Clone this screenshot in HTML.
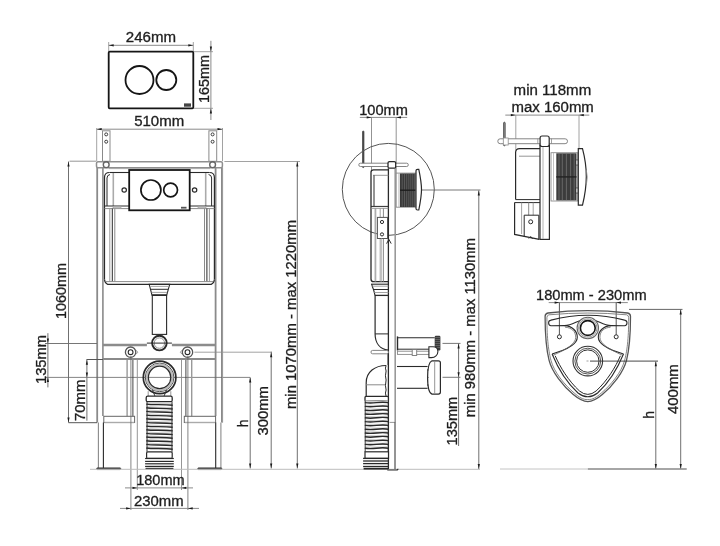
<!DOCTYPE html>
<html><head><meta charset="utf-8"><style>
html,body{margin:0;padding:0;background:#fff;width:720px;height:546px;overflow:hidden;}
svg{display:block;will-change:transform;}
text{font-family:"Liberation Sans",sans-serif;stroke:#1e1e1e;stroke-width:0.3px;}
</style></head><body>
<svg width="720" height="546" viewBox="0 0 720 546">
<rect width="720" height="546" fill="#fff"/>
<rect x="108.7" y="51.7" width="84.6" height="56.6" stroke="#151515" stroke-width="1.8" fill="none" rx="1"/>
<circle cx="139.5" cy="80" r="14" stroke="#151515" stroke-width="1.8" fill="none"/>
<circle cx="166.3" cy="80" r="10" stroke="#151515" stroke-width="1.8" fill="none"/>
<rect x="184" y="103.4" width="7" height="3.3" stroke="none" stroke-width="0" fill="#444" rx="0"/>
<line x1="108.7" y1="42" x2="108.7" y2="51" stroke="#8a8a8a" stroke-width="0.8" />
<line x1="193.3" y1="42" x2="193.3" y2="51" stroke="#8a8a8a" stroke-width="0.8" />
<line x1="108.7" y1="45.3" x2="193.3" y2="45.3" stroke="#8a8a8a" stroke-width="1.0" />
<polygon points="108.9,45.3 113.7,44.2 113.7,46.4" fill="#1a1a1a"/>
<polygon points="193.1,45.3 188.3,44.2 188.3,46.4" fill="#1a1a1a"/>
<line x1="194" y1="51.7" x2="213" y2="51.7" stroke="#8a8a8a" stroke-width="0.8" />
<line x1="194" y1="108.3" x2="213" y2="108.3" stroke="#8a8a8a" stroke-width="0.8" />
<line x1="210.9" y1="40.8" x2="210.9" y2="120" stroke="#8a8a8a" stroke-width="1.0" />
<polygon points="210.9,51.4 209.8,46.6 212,46.6" fill="#1a1a1a"/>
<polygon points="210.9,108.6 209.8,113.4 212,113.4" fill="#1a1a1a"/>
<line x1="96.7" y1="128" x2="96.7" y2="161" stroke="#8a8a8a" stroke-width="0.8" />
<line x1="222.5" y1="128" x2="222.5" y2="161" stroke="#8a8a8a" stroke-width="0.8" />
<line x1="96.7" y1="129.2" x2="222.5" y2="129.2" stroke="#8a8a8a" stroke-width="1.0" />
<polygon points="96.9,129.2 101.7,128.1 101.7,130.3" fill="#1a1a1a"/>
<polygon points="222.3,129.2 217.5,128.1 217.5,130.3" fill="#1a1a1a"/>
<rect x="102.5" y="130.8" width="7.5" height="30.5" stroke="#8a8a8a" stroke-width="1.0" fill="none" rx="0"/>
<rect x="208.9" y="130.8" width="7.8" height="30.5" stroke="#8a8a8a" stroke-width="1.0" fill="none" rx="0"/>
<circle cx="106.2" cy="134.4" r="1.5" stroke="#2a2a2a" stroke-width="0.9" fill="none"/>
<circle cx="106.2" cy="141.7" r="1.5" stroke="#2a2a2a" stroke-width="0.9" fill="none"/>
<circle cx="212.6" cy="134.4" r="1.5" stroke="#2a2a2a" stroke-width="0.9" fill="none"/>
<circle cx="212.6" cy="141.7" r="1.5" stroke="#2a2a2a" stroke-width="0.9" fill="none"/>
<line x1="69.5" y1="161.2" x2="96" y2="161.2" stroke="#8a8a8a" stroke-width="0.9" />
<line x1="224.4" y1="161.5" x2="300" y2="161.5" stroke="#8a8a8a" stroke-width="0.8" />
<line x1="97.2" y1="167.5" x2="97.2" y2="422.6" stroke="#8a8a8a" stroke-width="1.8" />
<line x1="102.9" y1="167.5" x2="102.9" y2="416" stroke="#8a8a8a" stroke-width="1.6" />
<line x1="215.6" y1="167.5" x2="215.6" y2="416" stroke="#8a8a8a" stroke-width="1.8" />
<line x1="221.9" y1="167.5" x2="221.9" y2="422.6" stroke="#8a8a8a" stroke-width="1.8" />
<rect x="96.5" y="161.7" width="125.9" height="6" stroke="#8f8f8f" stroke-width="1.5" fill="#fff" rx="1.5"/>
<circle cx="106.2" cy="164.7" r="2.9" stroke="#666" stroke-width="1.4" fill="none"/>
<circle cx="212.6" cy="164.7" r="2.9" stroke="#666" stroke-width="1.4" fill="none"/>
<path d="M104.5,279.5 V177.5 Q104.5,172.5 109.5,172.5" stroke="#2a2a2a" stroke-width="1.2" fill="none"/>
<path d="M214.4,279.5 V177.5 Q214.4,172.5 209.4,172.5" stroke="#2a2a2a" stroke-width="1.2" fill="none"/>
<line x1="109.5" y1="172.5" x2="129.2" y2="172.5" stroke="#2a2a2a" stroke-width="1.1" />
<line x1="189.7" y1="172.5" x2="209.4" y2="172.5" stroke="#2a2a2a" stroke-width="1.1" />
<line x1="109" y1="168.6" x2="210" y2="168.6" stroke="#aaa" stroke-width="1.0" />
<path d="M107,206 V178 Q107,175 110,174.5" stroke="#2a2a2a" stroke-width="1.0" fill="none"/>
<path d="M211.6,206 V178 Q211.6,175 208.6,174.5" stroke="#2a2a2a" stroke-width="1.0" fill="none"/>
<line x1="113.3" y1="173" x2="113.3" y2="206" stroke="#aaa" stroke-width="1.6" />
<line x1="205.7" y1="173" x2="205.7" y2="206" stroke="#aaa" stroke-width="1.6" />
<line x1="104.5" y1="206" x2="129.2" y2="206" stroke="#2a2a2a" stroke-width="1.0" />
<line x1="104.5" y1="208.6" x2="129.2" y2="208.6" stroke="#8a8a8a" stroke-width="1.0" />
<line x1="189.7" y1="206" x2="214.4" y2="206" stroke="#2a2a2a" stroke-width="1.0" />
<line x1="189.7" y1="208.6" x2="214.4" y2="208.6" stroke="#8a8a8a" stroke-width="1.0" />
<rect x="113" y="206.3" width="8" height="2" stroke="#999" stroke-width="0.6" fill="#bbb" rx="0"/>
<rect x="198" y="206.3" width="8" height="2" stroke="#999" stroke-width="0.6" fill="#bbb" rx="0"/>
<line x1="109.8" y1="208.6" x2="109.8" y2="281.5" stroke="#999" stroke-width="1.0" />
<line x1="112.3" y1="208.6" x2="112.3" y2="281.5" stroke="#2a2a2a" stroke-width="1.0" />
<line x1="114.8" y1="208.6" x2="114.8" y2="281.5" stroke="#8a8a8a" stroke-width="1.0" />
<line x1="204.5" y1="208.6" x2="204.5" y2="281.5" stroke="#8a8a8a" stroke-width="1.0" />
<line x1="206.9" y1="208.6" x2="206.9" y2="281.5" stroke="#2a2a2a" stroke-width="1.0" />
<line x1="209.4" y1="208.6" x2="209.4" y2="281.5" stroke="#999" stroke-width="1.0" />
<path d="M104.5,279.5 Q104.5,282.5 107.5,284.3 H211.4 Q214.4,282.5 214.4,279.5" stroke="#2a2a2a" stroke-width="1.2" fill="none"/>
<line x1="106" y1="281.6" x2="213" y2="281.6" stroke="#8a8a8a" stroke-width="1.0" />
<rect x="129.2" y="170" width="60.5" height="40.3" stroke="#151515" stroke-width="1.8" fill="#fff" rx="0"/>
<circle cx="150.9" cy="190" r="10" stroke="#151515" stroke-width="1.7" fill="none"/>
<circle cx="170.6" cy="190" r="6.9" stroke="#151515" stroke-width="1.7" fill="none"/>
<circle cx="124.2" cy="190" r="2.2" stroke="#2a2a2a" stroke-width="1.2" fill="none"/>
<circle cx="194.6" cy="190" r="2.2" stroke="#2a2a2a" stroke-width="1.2" fill="none"/>
<rect x="181" y="206.8" width="5.5" height="1.8" stroke="none" stroke-width="0" fill="#555" rx="0"/>
<path d="M149.2,284.3 H169.7 L166.7,295.2 H152 Z" stroke="#2a2a2a" stroke-width="1.1" fill="none"/>
<line x1="150.5" y1="286.4" x2="168.5" y2="286.4" stroke="#999" stroke-width="0.9" />
<line x1="151" y1="289.3" x2="168" y2="289.3" stroke="#2a2a2a" stroke-width="1.0" />
<line x1="151.6" y1="292.4" x2="167.2" y2="292.4" stroke="#999" stroke-width="0.9" />
<rect x="152.3" y="295.2" width="14.3" height="39.2" stroke="#2a2a2a" stroke-width="1.1" fill="none" rx="0"/>
<line x1="152.3" y1="295.2" x2="166.6" y2="295.2" stroke="#2a2a2a" stroke-width="1.6" />
<circle cx="159.4" cy="343.1" r="7.3" stroke="#2a2a2a" stroke-width="1.9" fill="none"/>
<circle cx="159.4" cy="343.1" r="5.2" stroke="#8a8a8a" stroke-width="0.9" fill="none"/>
<line x1="146.9" y1="343.1" x2="171.9" y2="343.1" stroke="#2a2a2a" stroke-width="1.0" />
<line x1="45" y1="343.5" x2="97" y2="343.5" stroke="#666" stroke-width="0.9" />
<line x1="103" y1="345" x2="146.9" y2="345" stroke="#8c8c8c" stroke-width="2.4" />
<line x1="171.9" y1="345" x2="215.6" y2="345" stroke="#8c8c8c" stroke-width="2.4" />
<line x1="86.5" y1="359.5" x2="103" y2="359.5" stroke="#555" stroke-width="1.0" />
<line x1="103" y1="359" x2="215.6" y2="359" stroke="#8a8a8a" stroke-width="2.0" />
<line x1="194.4" y1="352.2" x2="272" y2="352.2" stroke="#8a8a8a" stroke-width="0.8" />
<circle cx="130.6" cy="352.2" r="5.2" stroke="#555" stroke-width="1.3" fill="none"/>
<circle cx="130.6" cy="352.2" r="2.4" stroke="#2a2a2a" stroke-width="1.1" fill="none"/>
<path d="M136.1,350.2 L137.79999999999998,352.2 L136.1,354.2" stroke="#8a8a8a" stroke-width="0.8" fill="none"/>
<circle cx="187.5" cy="352.2" r="5.2" stroke="#555" stroke-width="1.3" fill="none"/>
<circle cx="187.5" cy="352.2" r="2.4" stroke="#2a2a2a" stroke-width="1.1" fill="none"/>
<path d="M182.0,350.2 L180.3,352.2 L182.0,354.2" stroke="#8a8a8a" stroke-width="0.8" fill="none"/>
<line x1="45" y1="377.4" x2="250" y2="377.4" stroke="#666" stroke-width="0.8" />
<line x1="127.1" y1="360" x2="127.1" y2="416.3" stroke="#999" stroke-width="1.4" />
<line x1="132.9" y1="360" x2="132.9" y2="416.3" stroke="#444" stroke-width="1.0" />
<line x1="191.7" y1="360" x2="191.7" y2="416.3" stroke="#999" stroke-width="1.4" />
<line x1="185.9" y1="360" x2="185.9" y2="416.3" stroke="#444" stroke-width="1.0" />
<rect x="103.8" y="416.3" width="30.8" height="6.2" stroke="#666" stroke-width="1.0" fill="none" rx="0"/>
<rect x="184.3" y="416.3" width="31.3" height="6.2" stroke="#666" stroke-width="1.0" fill="none" rx="0"/>
<line x1="104.3" y1="422.5" x2="134.3" y2="422.5" stroke="#aaa" stroke-width="1.4" />
<line x1="184.8" y1="422.5" x2="215.3" y2="422.5" stroke="#aaa" stroke-width="1.4" />
<line x1="68.5" y1="422.7" x2="97" y2="422.7" stroke="#444" stroke-width="0.9" />
<line x1="98.4" y1="422.5" x2="98.4" y2="468" stroke="#8a8a8a" stroke-width="1.1" />
<line x1="103.4" y1="422.5" x2="103.4" y2="468" stroke="#2a2a2a" stroke-width="1.1" />
<line x1="215.7" y1="422.5" x2="215.7" y2="468" stroke="#2a2a2a" stroke-width="1.1" />
<line x1="220.9" y1="422.5" x2="220.9" y2="468" stroke="#8a8a8a" stroke-width="1.1" />
<rect x="96.6" y="467.8" width="24.2" height="1.8" stroke="#2a2a2a" stroke-width="0.5" fill="#444" rx="0.8"/>
<rect x="197.7" y="467.8" width="24.2" height="1.8" stroke="#2a2a2a" stroke-width="0.5" fill="#444" rx="0.8"/>
<circle cx="159.6" cy="377.4" r="16.3" stroke="#2a2a2a" stroke-width="1.7" fill="none"/>
<circle cx="159.6" cy="377.4" r="14.3" stroke="#2a2a2a" stroke-width="0.9" fill="none"/>
<circle cx="159.6" cy="377.4" r="12.8" stroke="#bbb" stroke-width="2.0" fill="none"/>
<circle cx="159.6" cy="377.4" r="11.2" stroke="#2a2a2a" stroke-width="1.2" fill="none"/>
<line x1="148.2" y1="391.2" x2="148.2" y2="396.2" stroke="#8a8a8a" stroke-width="0.9" />
<line x1="170.8" y1="391.2" x2="170.8" y2="396.2" stroke="#8a8a8a" stroke-width="0.9" />
<path d="M152.5,390 L155,396.2 M166.5,390 L164,396.2" stroke="#2a2a2a" stroke-width="0.9" fill="none"/>
<rect x="146.2" y="396.2" width="26" height="5.5" stroke="#2a2a2a" stroke-width="1.3" fill="#fff" rx="1.5"/>
<path d="M147,402.3 Q159.5,403.1 172,403.3 L172,405.1 Q159.5,404.9 147,404.3 Z" fill="#cfcfcf" stroke="none"/>
<path d="M146.3,404.1 C152,405.2 164,404.1 172.7,405.3" stroke="#2a2a2a" stroke-width="1.4" fill="none"/>
<path d="M147,406.0 Q159.5,406.8 172,407.0 L172,408.8 Q159.5,408.6 147,408.0 Z" fill="#cfcfcf" stroke="none"/>
<path d="M146.3,407.8 C152,408.9 164,407.8 172.7,409.0" stroke="#2a2a2a" stroke-width="1.4" fill="none"/>
<path d="M147,409.6 Q159.5,410.4 172,410.6 L172,412.4 Q159.5,412.2 147,411.6 Z" fill="#cfcfcf" stroke="none"/>
<path d="M146.3,411.4 C152,412.5 164,411.4 172.7,412.6" stroke="#2a2a2a" stroke-width="1.4" fill="none"/>
<path d="M147,413.3 Q159.5,414.1 172,414.3 L172,416.1 Q159.5,415.9 147,415.3 Z" fill="#cfcfcf" stroke="none"/>
<path d="M146.3,415.1 C152,416.2 164,415.1 172.7,416.3" stroke="#2a2a2a" stroke-width="1.4" fill="none"/>
<path d="M147,416.9 Q159.5,417.7 172,417.9 L172,419.7 Q159.5,419.5 147,418.9 Z" fill="#cfcfcf" stroke="none"/>
<path d="M146.3,418.7 C152,419.8 164,418.7 172.7,419.9" stroke="#2a2a2a" stroke-width="1.4" fill="none"/>
<path d="M147,420.6 Q159.5,421.4 172,421.6 L172,423.4 Q159.5,423.2 147,422.6 Z" fill="#cfcfcf" stroke="none"/>
<path d="M146.3,422.4 C152,423.5 164,422.4 172.7,423.6" stroke="#2a2a2a" stroke-width="1.4" fill="none"/>
<path d="M147,424.3 Q159.5,425.1 172,425.3 L172,427.1 Q159.5,426.9 147,426.3 Z" fill="#cfcfcf" stroke="none"/>
<path d="M146.3,426.1 C152,427.2 164,426.1 172.7,427.3" stroke="#2a2a2a" stroke-width="1.4" fill="none"/>
<path d="M147,427.9 Q159.5,428.7 172,428.9 L172,430.7 Q159.5,430.5 147,429.9 Z" fill="#cfcfcf" stroke="none"/>
<path d="M146.3,429.7 C152,430.8 164,429.7 172.7,430.9" stroke="#2a2a2a" stroke-width="1.4" fill="none"/>
<path d="M147,431.6 Q159.5,432.4 172,432.6 L172,434.4 Q159.5,434.2 147,433.6 Z" fill="#cfcfcf" stroke="none"/>
<path d="M146.3,433.4 C152,434.5 164,433.4 172.7,434.6" stroke="#2a2a2a" stroke-width="1.4" fill="none"/>
<path d="M147,435.2 Q159.5,436.0 172,436.2 L172,438.0 Q159.5,437.8 147,437.2 Z" fill="#cfcfcf" stroke="none"/>
<path d="M146.3,437.0 C152,438.1 164,437.0 172.7,438.2" stroke="#2a2a2a" stroke-width="1.4" fill="none"/>
<path d="M147,438.9 Q159.5,439.7 172,439.9 L172,441.7 Q159.5,441.5 147,440.9 Z" fill="#cfcfcf" stroke="none"/>
<path d="M146.3,440.7 C152,441.8 164,440.7 172.7,441.9" stroke="#2a2a2a" stroke-width="1.4" fill="none"/>
<path d="M147,442.6 Q159.5,443.4 172,443.6 L172,445.4 Q159.5,445.2 147,444.6 Z" fill="#cfcfcf" stroke="none"/>
<path d="M146.3,444.4 C152,445.5 164,444.4 172.7,445.6" stroke="#2a2a2a" stroke-width="1.4" fill="none"/>
<path d="M147,446.2 Q159.5,447.0 172,447.2 L172,449.0 Q159.5,448.8 147,448.2 Z" fill="#cfcfcf" stroke="none"/>
<path d="M146.3,448.0 C152,449.1 164,448.0 172.7,449.2" stroke="#2a2a2a" stroke-width="1.4" fill="none"/>
<line x1="147" y1="401.7" x2="147" y2="451.8" stroke="#2a2a2a" stroke-width="1.0" />
<line x1="172" y1="401.7" x2="172" y2="451.8" stroke="#2a2a2a" stroke-width="1.0" />
<rect x="146.6" y="451.8" width="25.6" height="6.6" stroke="#2a2a2a" stroke-width="1.2" fill="#fff" rx="1.2"/>
<line x1="145.1" y1="461.4" x2="173.8" y2="461.4" stroke="#2a2a2a" stroke-width="1.2" />
<line x1="145.1" y1="463.8" x2="173.8" y2="463.8" stroke="#2a2a2a" stroke-width="1.2" />
<line x1="145.1" y1="466.4" x2="173.8" y2="466.4" stroke="#2a2a2a" stroke-width="1.2" />
<line x1="145.1" y1="458.5" x2="173.8" y2="458.5" stroke="#2a2a2a" stroke-width="1.2" />
<path d="M145.5,468.6 H173.4" stroke="#2a2a2a" stroke-width="1.6" fill="none"/>
<line x1="130.9" y1="356" x2="130.9" y2="510" stroke="#666" stroke-width="0.8" />
<line x1="187.9" y1="356" x2="187.9" y2="510" stroke="#666" stroke-width="0.8" />
<line x1="137.3" y1="358" x2="137.3" y2="490" stroke="#8a8a8a" stroke-width="0.9" />
<line x1="181.5" y1="358" x2="181.5" y2="490" stroke="#8a8a8a" stroke-width="0.9" />
<line x1="125" y1="487.9" x2="193" y2="487.9" stroke="#8a8a8a" stroke-width="1.0" />
<polygon points="137.3,487.9 132.5,486.8 132.5,489" fill="#1a1a1a"/>
<polygon points="181.5,487.9 186.3,486.8 186.3,489" fill="#1a1a1a"/>
<line x1="120" y1="508.4" x2="199" y2="508.4" stroke="#8a8a8a" stroke-width="1.0" />
<polygon points="130.9,508.4 126.1,507.3 126.1,509.5" fill="#1a1a1a"/>
<polygon points="187.9,508.4 192.7,507.3 192.7,509.5" fill="#1a1a1a"/>
<line x1="68.5" y1="161.5" x2="68.5" y2="422.6" stroke="#707070" stroke-width="1.0" />
<polygon points="68.5,161.7 67.4,166.5 69.6,166.5" fill="#1a1a1a"/>
<polygon points="68.5,422.4 67.4,417.6 69.6,417.6" fill="#1a1a1a"/>
<line x1="47.9" y1="333.2" x2="47.9" y2="387.4" stroke="#707070" stroke-width="1.0" />
<polygon points="47.9,343.2 46.8,338.4 49,338.4" fill="#1a1a1a"/>
<polygon points="47.9,377.2 46.8,382 49,382" fill="#1a1a1a"/>
<line x1="86.9" y1="359.6" x2="86.9" y2="420.7" stroke="#707070" stroke-width="1.0" />
<polygon points="86.9,359.9 85.8,364.7 88,364.7" fill="#1a1a1a"/>
<polygon points="86.9,377.2 85.8,372.4 88,372.4" fill="#1a1a1a"/>
<line x1="297.3" y1="161.5" x2="297.3" y2="468.5" stroke="#707070" stroke-width="1.0" />
<polygon points="297.3,161.7 296.2,166.5 298.4,166.5" fill="#1a1a1a"/>
<polygon points="297.3,468.3 296.2,463.5 298.4,463.5" fill="#1a1a1a"/>
<line x1="271.2" y1="351.7" x2="271.2" y2="468.5" stroke="#707070" stroke-width="1.0" />
<polygon points="271.2,352.4 270.1,357.2 272.3,357.2" fill="#1a1a1a"/>
<polygon points="271.2,468.3 270.1,463.5 272.3,463.5" fill="#1a1a1a"/>
<line x1="250.2" y1="377.4" x2="250.2" y2="468.5" stroke="#707070" stroke-width="1.0" />
<polygon points="250.2,377.6 249.1,382.4 251.3,382.4" fill="#1a1a1a"/>
<polygon points="250.2,468.3 249.1,463.5 251.3,463.5" fill="#1a1a1a"/>
<line x1="90" y1="469.3" x2="480" y2="469.3" stroke="#bdbdbd" stroke-width="1.0" />
<line x1="222.6" y1="167.5" x2="222.6" y2="422.6" stroke="#9a9a9a" stroke-width="0.9" />
<line x1="359.8" y1="117.4" x2="407.2" y2="117.4" stroke="#8a8a8a" stroke-width="1.0" />
<polygon points="371.5,117.4 366.7,116.3 366.7,118.5" fill="#1a1a1a"/>
<polygon points="396.2,117.4 401,116.3 401,118.5" fill="#1a1a1a"/>
<line x1="371.5" y1="117.4" x2="371.5" y2="170" stroke="#777" stroke-width="0.8" />
<line x1="396.2" y1="117.4" x2="396.2" y2="173" stroke="#777" stroke-width="0.8" />
<rect x="362.5" y="131" width="1.5" height="36.6" stroke="#2a2a2a" stroke-width="0.6" fill="#555" rx="0.7"/>
<circle cx="388.3" cy="189.4" r="46" stroke="#555" stroke-width="1.0" fill="none"/>
<line x1="421.5" y1="190" x2="480.5" y2="190" stroke="#555" stroke-width="0.8" />
<rect x="358.8" y="163.2" width="49.5" height="3.3" stroke="#777" stroke-width="0.9" fill="#fff" rx="1.6"/>
<line x1="388.4" y1="168.2" x2="388.4" y2="469" stroke="#2a2a2a" stroke-width="1.3" />
<line x1="395.2" y1="168.2" x2="395.2" y2="422.4" stroke="#999" stroke-width="1.6" />
<line x1="389.5" y1="422.4" x2="395.4" y2="422.4" stroke="#8a8a8a" stroke-width="0.9" />
<line x1="395" y1="422.4" x2="395" y2="469" stroke="#2a2a2a" stroke-width="1.0" />
<path d="M387.3,470 H396.5 Q398,470 397.9,468.8" stroke="#2a2a2a" stroke-width="1.2" fill="none"/>
<rect x="388" y="161.6" width="7.7" height="6.6" stroke="#2a2a2a" stroke-width="1.3" fill="#fff" rx="1.5"/>
<path d="M388.4,169.8 H373.5 Q371,169.8 371,172.3 V279 Q371,281.7 373.5,281.7 H388.4" stroke="#2a2a2a" stroke-width="1.3" fill="none"/>
<line x1="373" y1="175.3" x2="388.4" y2="175.3" stroke="#8a8a8a" stroke-width="0.9" />
<line x1="374" y1="175.3" x2="374" y2="206.4" stroke="#2a2a2a" stroke-width="1.0" />
<line x1="371" y1="206.4" x2="388.4" y2="206.4" stroke="#2a2a2a" stroke-width="1.0" />
<line x1="371" y1="208.3" x2="388.4" y2="208.3" stroke="#8a8a8a" stroke-width="0.9" />
<line x1="375.1" y1="208.3" x2="375.1" y2="281.7" stroke="#999" stroke-width="0.9" />
<line x1="380.2" y1="208.3" x2="380.2" y2="217.4" stroke="#999" stroke-width="0.9" />
<line x1="380.2" y1="238.5" x2="380.2" y2="281.7" stroke="#999" stroke-width="0.9" />
<line x1="383.4" y1="208.3" x2="383.4" y2="217.4" stroke="#8a8a8a" stroke-width="1.0" />
<line x1="383.4" y1="238.5" x2="383.4" y2="281.7" stroke="#8a8a8a" stroke-width="1.0" />
<rect x="377.4" y="217.4" width="10.1" height="21.1" stroke="#555" stroke-width="1.0" fill="#fff" rx="0"/>
<circle cx="382" cy="222" r="1.6" stroke="#2a2a2a" stroke-width="1.0" fill="none"/>
<circle cx="382" cy="234.4" r="1.6" stroke="#2a2a2a" stroke-width="1.0" fill="none"/>
<path d="M386.6,243.6 L388.9,239.4 L391.2,243.6" stroke="#2a2a2a" stroke-width="1.0" fill="none"/>
<rect x="396.2" y="173.1" width="19.8" height="34.1" stroke="#8a8a8a" stroke-width="0.9" fill="#fff" rx="0"/>
<line x1="399" y1="173.5" x2="399" y2="207" stroke="#aaa" stroke-width="0.9" />
<rect x="400" y="173.5" width="15.4" height="33.5" stroke="none" stroke-width="0" fill="#383838" rx="0"/>
<line x1="402.2" y1="173.7" x2="402.2" y2="206.8" stroke="#6e6e6e" stroke-width="0.6" />
<line x1="404.5" y1="173.7" x2="404.5" y2="206.8" stroke="#6e6e6e" stroke-width="0.6" />
<line x1="406.7" y1="173.7" x2="406.7" y2="206.8" stroke="#6e6e6e" stroke-width="0.6" />
<line x1="408.8" y1="173.7" x2="408.8" y2="206.8" stroke="#6e6e6e" stroke-width="0.6" />
<line x1="410.8" y1="173.7" x2="410.8" y2="206.8" stroke="#6e6e6e" stroke-width="0.6" />
<line x1="412.7" y1="173.7" x2="412.7" y2="206.8" stroke="#6e6e6e" stroke-width="0.6" />
<line x1="414.4" y1="173.7" x2="414.4" y2="206.8" stroke="#6e6e6e" stroke-width="0.6" />
<line x1="400" y1="190.2" x2="415.4" y2="190.2" stroke="#1e1e1e" stroke-width="1.4" />
<path d="M416,170.8 Q416,169.3 417.5,169.3 H418.8 C420.6,178 421.5,184 421.5,189.6 C421.5,195 420.6,201 418.8,210 H417.5 Q416,210 416,208.5 Z" stroke="#2a2a2a" stroke-width="1.2" fill="#fff"/>
<line x1="371" y1="284.2" x2="388.4" y2="284.2" stroke="#2a2a2a" stroke-width="1.1" />
<path d="M371.7,284.2 L372.5,287 L373.5,289.5 L374.3,292.5 L375,295.4" stroke="#2a2a2a" stroke-width="1.1" fill="none"/>
<line x1="372.5" y1="286.2" x2="388.4" y2="286.2" stroke="#999" stroke-width="0.9" />
<line x1="373.3" y1="289.5" x2="388.4" y2="289.5" stroke="#2a2a2a" stroke-width="1.0" />
<line x1="374.3" y1="292.5" x2="388.4" y2="292.5" stroke="#999" stroke-width="0.9" />
<line x1="374.7" y1="295.4" x2="388.4" y2="295.4" stroke="#2a2a2a" stroke-width="1.3" />
<line x1="375.8" y1="208.3" x2="375.8" y2="281.7" stroke="#999" stroke-width="0.8" />
<line x1="381.6" y1="238.5" x2="381.6" y2="281.7" stroke="#aaa" stroke-width="0.8" />
<path d="M375.1,295.4 V333.9 C375.1,343 380,349 388.4,350.2" stroke="#2a2a2a" stroke-width="1.2" fill="none"/>
<line x1="375.1" y1="333.9" x2="388.4" y2="333.9" stroke="#2a2a2a" stroke-width="1.0" />
<line x1="397.5" y1="336.4" x2="397.5" y2="350.5" stroke="#2a2a2a" stroke-width="1.4" />
<line x1="397.5" y1="337.7" x2="434.7" y2="337.7" stroke="#2a2a2a" stroke-width="1.1" />
<line x1="397.5" y1="349.2" x2="429.5" y2="349.2" stroke="#2a2a2a" stroke-width="1.0" />
<rect x="434.7" y="335.8" width="5.7" height="14.7" stroke="none" stroke-width="0" fill="#3a3a3a" rx="1.2"/>
<line x1="435.2" y1="337.5" x2="440" y2="337.5" stroke="#888" stroke-width="0.5" />
<line x1="435.2" y1="339.5" x2="440" y2="339.5" stroke="#888" stroke-width="0.5" />
<line x1="435.2" y1="341.5" x2="440" y2="341.5" stroke="#888" stroke-width="0.5" />
<line x1="435.2" y1="343.5" x2="440" y2="343.5" stroke="#888" stroke-width="0.5" />
<line x1="435.2" y1="345.5" x2="440" y2="345.5" stroke="#888" stroke-width="0.5" />
<line x1="435.2" y1="347.5" x2="440" y2="347.5" stroke="#888" stroke-width="0.5" />
<rect x="397.5" y="351.2" width="32" height="3.2" stroke="#888" stroke-width="0.9" fill="#fff" rx="0"/>
<rect x="412.2" y="349.5" width="4.5" height="6" stroke="#777" stroke-width="0.9" fill="#fff" rx="0"/>
<path d="M428.9,346.7 H433 C436.5,346.7 437.9,349 437.9,351.5 C437.9,355 435,357.6 431.5,357.6 H428.9 Z" stroke="#2a2a2a" stroke-width="1.1" fill="#fff"/>
<rect x="371" y="350.4" width="17.4" height="3.4" stroke="#777" stroke-width="0.9" fill="#fff" rx="1.6"/>
<line x1="388.2" y1="354" x2="388.2" y2="365" stroke="#2a2a2a" stroke-width="1.2" />
<path d="M366.2,396.4 V382.7 C366.2,372 375,365.5 386.1,365.5" stroke="#2a2a2a" stroke-width="1.2" fill="none"/>
<line x1="366.2" y1="384.8" x2="386" y2="384.8" stroke="#8a8a8a" stroke-width="1.0" />
<path d="M386.1,365.5 Q384.8,368 386.1,371 Q384.8,376 386.1,380 Q384.8,386 386.1,390 Q384.8,393 386.1,396.4" stroke="#2a2a2a" stroke-width="1.0" fill="none"/>
<line x1="397" y1="366.5" x2="427.6" y2="366.5" stroke="#2a2a2a" stroke-width="1.1" />
<line x1="397" y1="388.3" x2="427.6" y2="388.3" stroke="#2a2a2a" stroke-width="1.1" />
<path d="M432,360.8 H438.4 Q440.4,360.8 440.4,362.8 V392.1 Q440.4,394.1 438.4,394.1 H432 C429,393 427.6,385 427.6,377.4 C427.6,370 429,362 432,360.8 Z" stroke="#2a2a2a" stroke-width="1.2" fill="#fff"/>
<line x1="434.7" y1="361.3" x2="434.7" y2="393.6" stroke="#8a8a8a" stroke-width="0.9" />
<circle cx="427.8" cy="370" r="0.7" stroke="#2a2a2a" stroke-width="0" fill="#333"/>
<circle cx="427.8" cy="377.4" r="0.7" stroke="#2a2a2a" stroke-width="0" fill="#333"/>
<circle cx="427.8" cy="385" r="0.7" stroke="#2a2a2a" stroke-width="0" fill="#333"/>
<rect x="365" y="396.4" width="23.4" height="4.8" stroke="#2a2a2a" stroke-width="1.3" fill="#fff" rx="1"/>
<path d="M365.5,400.6 Q377,401.4 388,400.4 L388,402.6 Q377,403.4 365.5,402.6 Z" fill="#d2d2d2" stroke="none"/>
<path d="M364.8,402.6 Q370,403.4 376.5,402.6 T388.6,402.6" stroke="#2a2a2a" stroke-width="1.4" fill="none"/>
<path d="M365.5,404.4 Q377,405.2 388,404.2 L388,406.4 Q377,407.2 365.5,406.4 Z" fill="#d2d2d2" stroke="none"/>
<path d="M364.8,406.4 Q370,407.2 376.5,406.4 T388.6,406.4" stroke="#2a2a2a" stroke-width="1.4" fill="none"/>
<path d="M365.5,408.2 Q377,409.0 388,408.0 L388,410.2 Q377,411.0 365.5,410.2 Z" fill="#d2d2d2" stroke="none"/>
<path d="M364.8,410.2 Q370,411.0 376.5,410.2 T388.6,410.2" stroke="#2a2a2a" stroke-width="1.4" fill="none"/>
<path d="M365.5,412.0 Q377,412.8 388,411.8 L388,414.0 Q377,414.8 365.5,414.0 Z" fill="#d2d2d2" stroke="none"/>
<path d="M364.8,414.0 Q370,414.8 376.5,414.0 T388.6,414.0" stroke="#2a2a2a" stroke-width="1.4" fill="none"/>
<path d="M365.5,415.8 Q377,416.6 388,415.6 L388,417.8 Q377,418.6 365.5,417.8 Z" fill="#d2d2d2" stroke="none"/>
<path d="M364.8,417.8 Q370,418.6 376.5,417.8 T388.6,417.8" stroke="#2a2a2a" stroke-width="1.4" fill="none"/>
<path d="M365.5,419.6 Q377,420.4 388,419.4 L388,421.6 Q377,422.4 365.5,421.6 Z" fill="#d2d2d2" stroke="none"/>
<path d="M364.8,421.6 Q370,422.4 376.5,421.6 T388.6,421.6" stroke="#2a2a2a" stroke-width="1.4" fill="none"/>
<path d="M365.5,423.4 Q377,424.2 388,423.2 L388,425.4 Q377,426.2 365.5,425.4 Z" fill="#d2d2d2" stroke="none"/>
<path d="M364.8,425.4 Q370,426.2 376.5,425.4 T388.6,425.4" stroke="#2a2a2a" stroke-width="1.4" fill="none"/>
<path d="M365.5,427.2 Q377,428.0 388,427.0 L388,429.2 Q377,430.0 365.5,429.2 Z" fill="#d2d2d2" stroke="none"/>
<path d="M364.8,429.2 Q370,430.0 376.5,429.2 T388.6,429.2" stroke="#2a2a2a" stroke-width="1.4" fill="none"/>
<path d="M365.5,431.0 Q377,431.8 388,430.8 L388,433.0 Q377,433.8 365.5,433.0 Z" fill="#d2d2d2" stroke="none"/>
<path d="M364.8,433.0 Q370,433.8 376.5,433.0 T388.6,433.0" stroke="#2a2a2a" stroke-width="1.4" fill="none"/>
<path d="M365.5,434.8 Q377,435.6 388,434.6 L388,436.8 Q377,437.6 365.5,436.8 Z" fill="#d2d2d2" stroke="none"/>
<path d="M364.8,436.8 Q370,437.6 376.5,436.8 T388.6,436.8" stroke="#2a2a2a" stroke-width="1.4" fill="none"/>
<path d="M365.5,438.6 Q377,439.4 388,438.4 L388,440.6 Q377,441.4 365.5,440.6 Z" fill="#d2d2d2" stroke="none"/>
<path d="M364.8,440.6 Q370,441.4 376.5,440.6 T388.6,440.6" stroke="#2a2a2a" stroke-width="1.4" fill="none"/>
<path d="M365.5,442.4 Q377,443.2 388,442.2 L388,444.4 Q377,445.2 365.5,444.4 Z" fill="#d2d2d2" stroke="none"/>
<path d="M364.8,444.4 Q370,445.2 376.5,444.4 T388.6,444.4" stroke="#2a2a2a" stroke-width="1.4" fill="none"/>
<path d="M365.5,446.2 Q377,447.0 388,446.0 L388,448.2 Q377,449.0 365.5,448.2 Z" fill="#d2d2d2" stroke="none"/>
<path d="M364.8,448.2 Q370,449.0 376.5,448.2 T388.6,448.2" stroke="#2a2a2a" stroke-width="1.4" fill="none"/>
<line x1="365.2" y1="401.2" x2="365.2" y2="451.8" stroke="#2a2a2a" stroke-width="0.9" />
<line x1="388.3" y1="401.2" x2="388.3" y2="451.8" stroke="#2a2a2a" stroke-width="0.9" />
<rect x="365" y="451.8" width="23.5" height="6.6" stroke="#2a2a2a" stroke-width="1.2" fill="#fff" rx="0"/>
<line x1="363.1" y1="458.4" x2="388.8" y2="458.4" stroke="#2a2a2a" stroke-width="1.3" />
<line x1="363.1" y1="461" x2="388.8" y2="461" stroke="#2a2a2a" stroke-width="1.3" />
<line x1="363.1" y1="463.6" x2="388.8" y2="463.6" stroke="#2a2a2a" stroke-width="1.3" />
<line x1="363.1" y1="466.5" x2="388.8" y2="466.5" stroke="#2a2a2a" stroke-width="1.3" />
<path d="M363.6,468.7 H388.3" stroke="#2a2a2a" stroke-width="1.7" fill="none"/>
<line x1="442.5" y1="343.4" x2="460.5" y2="343.4" stroke="#555" stroke-width="0.8" />
<line x1="442.5" y1="377.3" x2="460.5" y2="377.3" stroke="#555" stroke-width="0.8" />
<line x1="458.6" y1="343.4" x2="458.6" y2="446" stroke="#707070" stroke-width="1.0" />
<polygon points="458.6,343.6 457.5,348.4 459.7,348.4" fill="#1a1a1a"/>
<polygon points="458.6,377.1 457.5,372.3 459.7,372.3" fill="#1a1a1a"/>
<line x1="478.8" y1="190.4" x2="478.8" y2="469" stroke="#707070" stroke-width="1.0" />
<polygon points="478.8,190.6 477.7,195.4 479.9,195.4" fill="#1a1a1a"/>
<polygon points="478.8,468.8 477.7,464 479.9,464" fill="#1a1a1a"/>
<line x1="505.3" y1="115.1" x2="589.3" y2="115.1" stroke="#8a8a8a" stroke-width="1.0" />
<polygon points="515.6,115.1 510.8,114 510.8,116.2" fill="#1a1a1a"/>
<polygon points="579,115.1 583.8,114 583.8,116.2" fill="#1a1a1a"/>
<line x1="515.8" y1="115.1" x2="515.8" y2="150" stroke="#8a8a8a" stroke-width="0.8" />
<line x1="579" y1="115.1" x2="579" y2="148" stroke="#8a8a8a" stroke-width="0.8" />
<rect x="503.6" y="122.2" width="1.6" height="23.6" stroke="#2a2a2a" stroke-width="0.7" fill="#999" rx="0.8"/>
<rect x="497.8" y="138.8" width="69.7" height="4.9" stroke="#777" stroke-width="0.9" fill="#fff" rx="2.4"/>
<rect x="503.3" y="138" width="4.9" height="7" stroke="#8a8a8a" stroke-width="0.8" fill="#fff" rx="0"/>
<path d="M540,148.6 H519.6 Q515.6,148.6 515.6,152.6 V199.6" stroke="#2a2a2a" stroke-width="1.2" fill="none"/>
<line x1="519" y1="156.2" x2="540" y2="156.2" stroke="#8a8a8a" stroke-width="0.9" />
<line x1="515.6" y1="199.6" x2="540" y2="199.6" stroke="#2a2a2a" stroke-width="1.0" />
<line x1="514.6" y1="202.6" x2="540" y2="202.6" stroke="#2a2a2a" stroke-width="1.0" />
<path d="M514.6,202.6 V234.4 L539.3,239.4" stroke="#2a2a2a" stroke-width="1.2" fill="none"/>
<line x1="521.6" y1="202.6" x2="521.6" y2="234" stroke="#999" stroke-width="0.9" />
<line x1="528.7" y1="202.6" x2="528.7" y2="215.2" stroke="#8a8a8a" stroke-width="1.0" />
<line x1="533.2" y1="202.6" x2="533.2" y2="215.2" stroke="#999" stroke-width="0.9" />
<path d="M524.2,236.5 V215.2 H538.8 V239.4" stroke="#2a2a2a" stroke-width="1.0" fill="none"/>
<path d="M528.7,238.6 L530.7,236.4 L532.7,239" stroke="#2a2a2a" stroke-width="0.8" fill="none"/>
<circle cx="530.7" cy="221.8" r="2" stroke="#2a2a2a" stroke-width="1.0" fill="none"/>
<rect x="540" y="145" width="9.4" height="94.4" stroke="#2a2a2a" stroke-width="1.2" fill="#fff" rx="0"/>
<line x1="543" y1="146" x2="543" y2="239" stroke="#aaa" stroke-width="0.9" />
<rect x="540.1" y="136" width="9.1" height="10.5" stroke="#2a2a2a" stroke-width="1.2" fill="#fff" rx="2"/>
<line x1="537.8" y1="138.5" x2="537.8" y2="144" stroke="#8a8a8a" stroke-width="0.8" />
<line x1="551.5" y1="138.5" x2="551.5" y2="144" stroke="#8a8a8a" stroke-width="0.8" />
<rect x="551" y="152.7" width="26.7" height="48.3" stroke="#8a8a8a" stroke-width="0.9" fill="#fff" rx="0"/>
<line x1="553.5" y1="153" x2="553.5" y2="200.5" stroke="#bbb" stroke-width="0.9" />
<rect x="556.3" y="153.3" width="20.2" height="47.1" stroke="none" stroke-width="0" fill="#3c3c3c" rx="0"/>
<line x1="559" y1="153.5" x2="559" y2="200.2" stroke="#7a7a7a" stroke-width="0.7" />
<line x1="562.3" y1="153.5" x2="562.3" y2="200.2" stroke="#7a7a7a" stroke-width="0.7" />
<line x1="566.4" y1="153.5" x2="566.4" y2="200.2" stroke="#7a7a7a" stroke-width="0.7" />
<line x1="570.6" y1="153.5" x2="570.6" y2="200.2" stroke="#7a7a7a" stroke-width="0.7" />
<line x1="574.2" y1="153.5" x2="574.2" y2="200.2" stroke="#7a7a7a" stroke-width="0.7" />
<line x1="556.3" y1="176.9" x2="576.5" y2="176.9" stroke="#222" stroke-width="1.4" />
<rect x="576" y="160" width="2" height="5" stroke="#2a2a2a" stroke-width="0.6" fill="#fff" rx="0"/>
<rect x="576" y="188" width="2" height="5" stroke="#2a2a2a" stroke-width="0.6" fill="#fff" rx="0"/>
<path d="M578.3,148.6 H582.5 C585.5,160 586.3,170 586.3,176.5 C586.3,183 585.5,193 582.5,205.1 H578.3 Z" stroke="#2a2a2a" stroke-width="1.2" fill="#fff"/>
<path d="M586.3,170 Q588.3,177 586.3,185" stroke="#8a8a8a" stroke-width="0.8" fill="none"/>
<line x1="548.7" y1="302.6" x2="627.8" y2="302.6" stroke="#8a8a8a" stroke-width="1.0" />
<polygon points="559.4,302.6 554.6,301.5 554.6,303.7" fill="#1a1a1a"/>
<polygon points="616.2,302.6 621,301.5 621,303.7" fill="#1a1a1a"/>
<line x1="559.4" y1="302.6" x2="559.4" y2="334.8" stroke="#2a2a2a" stroke-width="0.8" />
<line x1="616.2" y1="302.6" x2="616.2" y2="334.8" stroke="#2a2a2a" stroke-width="0.8" />
<path d="M548.0,313 Q587.8,308.2 627.6,313 Q630.5,313.6 630.5,316.5 C630.5,340 628.6,352 626.5,360.4 C623.6,372 612.6,386.0 602.3,394.6 C597.1,399 592.6,401.6 587.8,401.6 C583,401.6 578.5,399 573.3,394.6 C563.0,386.0 552.0,372 549.1,360.4 C547,352 545.1,340 545.1,316.5 Q545.1,313.6 548.0,313 Z" stroke="#555" stroke-width="1.3" fill="none"/>
<path d="M548.9,314.8 Q587.8,311.26 626.7,314.8 Q628.7,315.40000000000003 628.7,317.58 C628.7,340 626.8,352 624.61,360.4 C621.62,372 610.98,384.92 601.4,392.98 C596.56,397.2 592.6,399.8 587.8,399.62 C583,399.8 579.04,397.2 574.1999999999999,392.98 C564.62,384.92 553.98,372 550.99,360.4 C548.8,352 546.9,340 546.9,317.58 Q546.9,315.40000000000003 548.9,314.8 Z" stroke="#777" stroke-width="0.9" fill="none"/>
<path d="M551,320.1 Q587.8,310.5 624.6,320.1 Q627,320.5 627,322.8 Q627,325.7 624.6,325.7 L611,325.6 C603,325.4 598,320 587.8,318.2 C577.6,320 572.6,325.4 564.6,325.6 L551,325.7 Q548.6,325.7 548.6,322.8 Q548.6,320.5 551,320.1 Z" stroke="#2a2a2a" stroke-width="1.1" fill="none"/>
<path d="M564.6,325.6 C572.0,326 577.3,331 577.3,337.3 C577.3,344 566,350.0 552.1,354.0" stroke="#2a2a2a" stroke-width="1.1" fill="none"/>
<path d="M611.0,325.6 C603.6,326 598.3,331 598.3,337.3 C598.3,344 609.6,350.0 623.5,354.0" stroke="#2a2a2a" stroke-width="1.1" fill="none"/>
<path d="M565.08,327.20000000000005 C571.2,327.6 575.6999999999999,331 575.6999999999999,337.3 C575.6999999999999,344 566,349.52 553.0600000000001,355.28" stroke="#666" stroke-width="0.8" fill="none"/>
<path d="M610.52,327.20000000000005 C604.4,327.6 599.9,331 599.9,337.3 C599.9,344 609.6,349.52 622.54,355.28" stroke="#666" stroke-width="0.8" fill="none"/>
<path d="M552.1,354 C557,366 566,382 578,393 Q587.8,400.6 597.6,393 C609.6,382 618.6,366 623.5,354" stroke="#2a2a2a" stroke-width="1.1" fill="none"/>
<path d="M555.2,355.8 C560,367 568.5,381 579.5,391 Q587.8,397.8 596.1,391 C607.1,381 615.6,367 620.4,355.8" stroke="#2a2a2a" stroke-width="1.0" fill="none"/>
<circle cx="587.8" cy="328" r="10.7" stroke="#fff" stroke-width="0" fill="#fff"/>
<circle cx="587.8" cy="328" r="10.7" stroke="#666" stroke-width="1.1" fill="none"/>
<circle cx="587.8" cy="328" r="9.2" stroke="#888" stroke-width="0.9" fill="none"/>
<circle cx="587.8" cy="328" r="7.4" stroke="#151515" stroke-width="1.6" fill="none"/>
<circle cx="587.8" cy="361.1" r="14.8" stroke="#333" stroke-width="1.1" fill="none"/>
<circle cx="587.8" cy="361.1" r="12.9" stroke="#444" stroke-width="0.9" fill="none"/>
<circle cx="587.8" cy="361.1" r="11.2" stroke="#333" stroke-width="1.0" fill="none"/>
<circle cx="559.4" cy="336.8" r="2" stroke="#2a2a2a" stroke-width="1.0" fill="none"/>
<circle cx="616.2" cy="336.8" r="2" stroke="#2a2a2a" stroke-width="1.0" fill="none"/>
<line x1="629" y1="309.4" x2="682.5" y2="309.4" stroke="#555" stroke-width="0.9" />
<line x1="586.5" y1="361" x2="588.5" y2="361" stroke="#8a8a8a" stroke-width="0.8" />
<line x1="590" y1="361.1" x2="658" y2="361.1" stroke="#333" stroke-width="0.9" />
<line x1="680.7" y1="309.4" x2="680.7" y2="469" stroke="#707070" stroke-width="1.0" />
<polygon points="680.7,309.6 679.6,314.4 681.8,314.4" fill="#1a1a1a"/>
<polygon points="680.7,468.8 679.6,464 681.8,464" fill="#1a1a1a"/>
<line x1="655.8" y1="361.3" x2="655.8" y2="469" stroke="#707070" stroke-width="1.0" />
<polygon points="655.8,361.5 654.7,366.3 656.9,366.3" fill="#1a1a1a"/>
<polygon points="655.8,468.8 654.7,464 656.9,464" fill="#1a1a1a"/>
<line x1="587.8" y1="469" x2="686.7" y2="469" stroke="#888" stroke-width="1.3" />
<line x1="500" y1="469" x2="587.8" y2="469" stroke="#b5b5b5" stroke-width="0.8" />
<text x="150.9" y="42.4" font-size="14" text-anchor="middle" fill="#1e1e1e" textLength="50.26" lengthAdjust="spacingAndGlyphs">246mm</text>
<text transform="translate(209.0,79.0) rotate(-90)" font-size="14" text-anchor="middle" fill="#1e1e1e" textLength="48.06" lengthAdjust="spacingAndGlyphs">165mm</text>
<text x="159.2" y="126.2" font-size="14" text-anchor="middle" fill="#1e1e1e" textLength="50.06" lengthAdjust="spacingAndGlyphs">510mm</text>
<text x="160.4" y="485.2" font-size="14" text-anchor="middle" fill="#1e1e1e" textLength="48.47" lengthAdjust="spacingAndGlyphs">180mm</text>
<text x="158.8" y="506.0" font-size="14" text-anchor="middle" fill="#1e1e1e" textLength="49.64" lengthAdjust="spacingAndGlyphs">230mm</text>
<text transform="translate(65.8,291.0) rotate(-90)" font-size="14" text-anchor="middle" fill="#1e1e1e" textLength="56.05" lengthAdjust="spacingAndGlyphs">1060mm</text>
<text transform="translate(45.5,359.5) rotate(-90)" font-size="14" text-anchor="middle" fill="#1e1e1e" textLength="49.09" lengthAdjust="spacingAndGlyphs">135mm</text>
<text transform="translate(85.2,400.3) rotate(-90)" font-size="14" text-anchor="middle" fill="#1e1e1e" textLength="41.46" lengthAdjust="spacingAndGlyphs">70mm</text>
<text transform="translate(295.6,314.5) rotate(-90)" font-size="14" text-anchor="middle" fill="#1e1e1e" textLength="189.02" lengthAdjust="spacingAndGlyphs">min 1070mm - max 1220mm</text>
<text transform="translate(268.1,410.8) rotate(-90)" font-size="14" text-anchor="middle" fill="#1e1e1e" textLength="49.64" lengthAdjust="spacingAndGlyphs">300mm</text>
<text transform="translate(247.6,423.4) rotate(-90)" font-size="14" text-anchor="middle" fill="#1e1e1e">h</text>
<text x="383.5" y="114.6" font-size="14" text-anchor="middle" fill="#1e1e1e" textLength="48.69" lengthAdjust="spacingAndGlyphs">100mm</text>
<text transform="translate(456.6,421.1) rotate(-90)" font-size="14" text-anchor="middle" fill="#1e1e1e" textLength="48.67" lengthAdjust="spacingAndGlyphs">135mm</text>
<text transform="translate(475.2,327.6) rotate(-90)" font-size="14" text-anchor="middle" fill="#1e1e1e" textLength="179.21" lengthAdjust="spacingAndGlyphs">min 980mm - max 1130mm</text>
<text x="552.4" y="95.4" font-size="14" text-anchor="middle" fill="#1e1e1e" textLength="77.64" lengthAdjust="spacingAndGlyphs">min 118mm</text>
<text x="552.7" y="112.2" font-size="14" text-anchor="middle" fill="#1e1e1e" textLength="82.26" lengthAdjust="spacingAndGlyphs">max 160mm</text>
<text x="591.3" y="299.8" font-size="14" text-anchor="middle" fill="#1e1e1e" textLength="110.63" lengthAdjust="spacingAndGlyphs">180mm - 230mm</text>
<text transform="translate(678.0,389.1) rotate(-90)" font-size="14" text-anchor="middle" fill="#1e1e1e" textLength="49.85" lengthAdjust="spacingAndGlyphs">400mm</text>
<text transform="translate(654.4,414.8) rotate(-90)" font-size="14" text-anchor="middle" fill="#1e1e1e">h</text>
</svg></body></html>
